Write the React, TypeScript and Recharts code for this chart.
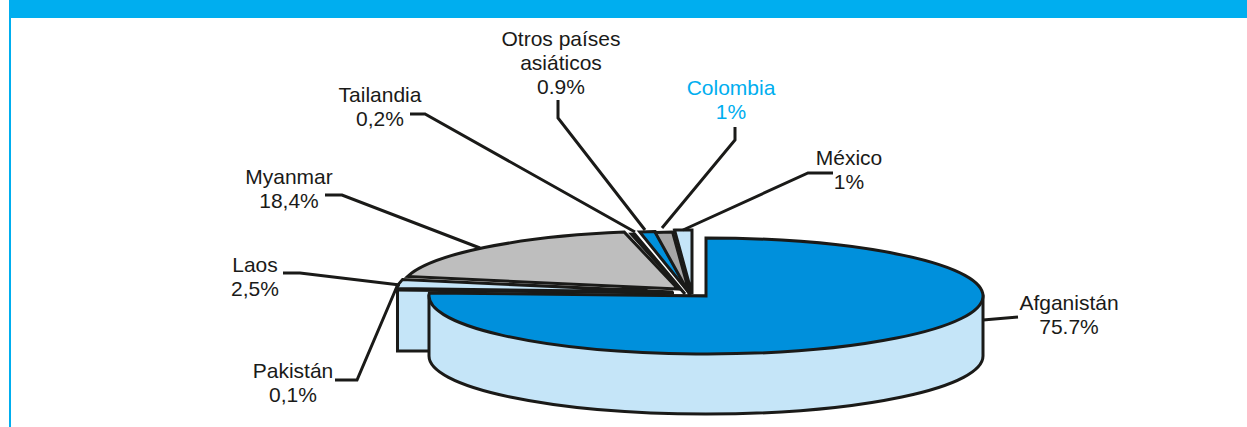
import React from 'react'
import { PieChart, Pie } from 'recharts'

const countries = ['Afganistán', 'Pakistán', 'Laos', 'Myanmar', 'Tailandia', 'Otros países asiáticos', 'Colombia', 'México']
const shares = [75.7, 0.1, 2.5, 18.4, 0.2, 0.9, 1, 1]
const shareLabels = ['75.7%', '0,1%', '2,5%', '18,4%', '0,2%', '0.9%', '1%', '1%']
const sliceColors = ['#0090DC', '#1F3A93', '#C5E5F8', '#BEBEBE', '#E6E6E6', '#0090DC', '#A6A6A6', '#C5E5F8']

const data = countries.map((name, i) => ({ name, value: shares[i], share: shareLabels[i], color: sliceColors[i] }))

const WIDTH = 1247
const HEIGHT = 427
const CX = 706
const CY = 296
const RADIUS = 277
const TILT = 58 / 277
const DEPTH = 60
const OUTLINE = '#1A1A18'
const WALL = '#C5E5F8'
const STROKE = 3

// how far each slice is pulled out of the pie
const explode: Record<string, [number, number]> = {
  Afganistán: [0, 0],
  Pakistán: [-32, -3],
  Laos: [-33, -4],
  Myanmar: [-28, -7],
  Tailandia: [-21, -5],
  'Otros países asiáticos': [-16, -7],
  Colombia: [-16, -6],
  México: [-14, -8],
}

// the narrow back slices run a little further down to their point
const pointDrop: Record<string, number> = {
  Tailandia: 3,
  'Otros países asiáticos': 5,
  Colombia: 5,
  México: 6,
}

// label lines and text anchors, text is centred on the first point
const labelSpots: Record<string, { text: [number, number]; lines: string[]; line: [number, number][]; color?: string }> = {
  Afganistán: { text: [1069, 310], lines: ['Afganistán'], line: [[983, 320], [1018, 317]] },
  Pakistán: { text: [293, 378], lines: ['Pakistán'], line: [[335, 380], [357, 380], [398, 284]] },
  Laos: { text: [255, 272], lines: ['Laos'], line: [[283, 273], [300, 273], [400, 285]] },
  Myanmar: { text: [289, 184], lines: ['Myanmar'], line: [[325, 195], [342, 195], [480, 248]] },
  Tailandia: { text: [380, 102], lines: ['Tailandia'], line: [[410, 114], [425, 114], [635, 232]] },
  'Otros países asiáticos': { text: [561, 46], lines: ['Otros países', 'asiáticos'], line: [[558, 100], [558, 118], [645, 230]] },
  Colombia: { text: [731, 95], lines: ['Colombia'], line: [[735, 127], [735, 140], [662, 228]], color: '#00AEEF' },
  México: { text: [849, 165], lines: ['México'], line: [[833, 173], [808, 173], [683, 230]] },
}

const rimPoint = (angle: number, ox: number, oy: number, cx: number, cy: number, r: number): [number, number] => {
  const rad = (angle * Math.PI) / 180
  return [cx + ox + r * Math.cos(rad), cy + oy - r * TILT * Math.sin(rad)]
}

const TopSlice = (props: any) => {
  const { cx, cy, outerRadius, startAngle, endAngle, payload } = props
  const name = payload?.name ?? props.name
  const [ox, oy] = explode[name]
  const [x1, y1] = rimPoint(startAngle, ox, oy, cx, cy, outerRadius)
  const [x2, y2] = rimPoint(endAngle, ox, oy, cx, cy, outerRadius)
  const large = Math.abs(startAngle - endAngle) > 180 ? 1 : 0
  const drop = pointDrop[name] ?? 0
  const d = `M${cx + ox} ${cy + oy + drop}L${x1} ${y1}A${outerRadius} ${outerRadius * TILT} 0 ${large} 1 ${x2} ${y2}Z`
  return <path d={d} fill={payload?.color ?? props.color} stroke={OUTLINE} strokeWidth={STROKE} strokeLinejoin="miter" />
}

// front wall of the big slice
const FrontWall = (props: any) => {
  const { cx, cy, outerRadius, payload } = props
  const name = payload?.name ?? props.name
  if (name !== 'Afganistán') return <g />
  const left = cx - outerRadius
  const right = cx + outerRadius
  const ry = outerRadius * TILT
  const d = `M${left} ${cy}L${left} ${cy + DEPTH}A${outerRadius} ${ry} 0 0 0 ${right} ${cy + DEPTH}L${right} ${cy}Z`
  return <path d={d} fill={WALL} stroke={OUTLINE} strokeWidth={STROKE} />
}

// cut face showing behind the big slice on the left
const BackWall = (props: any) => {
  const { cx, cy, outerRadius, endAngle, payload } = props
  const name = payload?.name ?? props.name
  if (name !== 'Pakistán') return <g />
  const [ox, oy] = explode[name]
  const [x, y] = rimPoint(endAngle, ox, oy, cx, cy, outerRadius)
  const bottom = cy + 55
  const inner = cx - 60
  const d = `M${x} ${y}L${x} ${bottom}L${inner} ${bottom}L${inner} ${y}Z`
  return <path d={d} fill={WALL} stroke={OUTLINE} strokeWidth={STROKE} />
}

const SliceLabel = (props: any) => {
  const name = props.payload?.name ?? props.name
  const spot = labelSpots[name]
  const fill = spot.color ?? '#1A1A18'
  const rows = [...spot.lines, props.payload?.share ?? props.share]
  return (
    <g>
      <polyline points={spot.line.map(p => p.join(',')).join(' ')} fill="none" stroke={OUTLINE} strokeWidth={STROKE} />
      <text textAnchor="middle" fill={fill} fontFamily="Liberation Sans" fontSize={21}>
        {rows.map((row: string, i: number) => (
          <tspan key={i} x={spot.text[0]} y={spot.text[1] + i * 24}>{row}</tspan>
        ))}
      </text>
    </g>
  )
}

const pieProps = {
  data,
  dataKey: 'value',
  nameKey: 'name',
  cx: CX,
  cy: CY,
  innerRadius: 0,
  outerRadius: RADIUS,
  startAngle: 90,
  endAngle: -270,
  paddingAngle: 0,
  isAnimationActive: false,
}

export default function App() {
  return (
    <div style={{ position: 'absolute', left: 0, top: 0, width: WIDTH, height: HEIGHT, background: '#fff', overflow: 'hidden' }}>
      <div style={{ position: 'absolute', left: 9, top: 0, right: 0, height: 18, background: '#00AEEF' }} />
      <div style={{ position: 'absolute', left: 9, top: 0, width: 2, bottom: 0, background: '#00AEEF' }} />
      <div style={{ position: 'absolute', left: 0, top: 0 }}>
        <PieChart width={WIDTH} height={HEIGHT} margin={{ top: 0, right: 0, bottom: 0, left: 0 }}>
          <Pie {...pieProps} shape={BackWall} />
          <Pie {...pieProps} shape={FrontWall} />
          <Pie {...pieProps} shape={TopSlice} label={SliceLabel} labelLine={false} />
        </PieChart>
      </div>
    </div>
  )
}
